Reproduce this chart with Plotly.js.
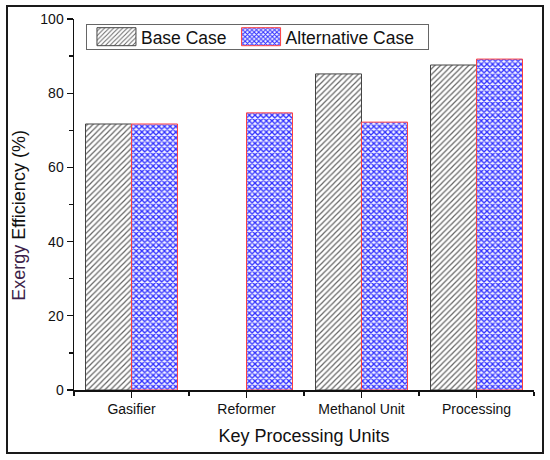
<!DOCTYPE html>
<html>
<head>
<meta charset="utf-8">
<script src="https://cdn.plot.ly/plotly-3.0.1.min.js"></script>
<style>
  html, body { margin: 0; padding: 0; background: #fff; }
  #wrap { position: relative; width: 550px; height: 460px; }
  #chart { position: absolute; left: 0; top: 0; width: 550px; height: 460px; }
  #frame { position: absolute; left: 6px; top: 5px; width: 534px; height: 445px; border: 2px solid #1a1a1a; pointer-events: none; }
</style>
</head>
<body>
<div id="wrap">
  <div id="chart"></div>
  <div id="frame"></div>
</div>
<script>
const categories = ['Gasifier', 'Reformer', 'Methanol Unit', 'Processing'];
const baseCase = [71.7, null, 85.2, 87.6];
const alternativeCase = [71.7, 74.7, 72.2, 89.2];
const yTicks = [0, 20, 40, 60, 80, 100];

const xPos = categories.map((c, i) => i);
const font = 'Liberation Sans, Arial, sans-serif';

const traces = [
  {
    type: 'bar', name: 'Base Case', x: xPos, y: baseCase,
    marker: {
      color: '#ffffff',
      line: { color: '#444444', width: 1 },
      pattern: { shape: '/', fgcolor: '#666666', bgcolor: '#ffffff', size: 4, solidity: 0.3 }
    }
  },
  {
    type: 'bar', name: 'Alternative Case', x: xPos, y: alternativeCase,
    marker: {
      color: '#ffffff',
      line: { color: '#ff4040', width: 1 },
      pattern: { shape: 'x', fgcolor: '#3030ff', bgcolor: '#f4f4ff', size: 4, solidity: 0.55 }
    }
  }
];

const layout = {
  width: 550, height: 460,
  margin: { l: 74, r: 16, t: 19, b: 70 },
  paper_bgcolor: '#ffffff', plot_bgcolor: '#ffffff',
  font: { family: font, color: '#111' },
  barmode: 'group', bargap: 0.2, bargroupgap: 0,
  showlegend: true,
  legend: {
    orientation: 'h', x: 0.026, y: 0.987, xanchor: 'left', yanchor: 'top',
    bordercolor: '#666666', borderwidth: 1, bgcolor: '#ffffff',
    font: { family: font, size: 17.5, color: '#111' },
    itemwidth: 44, tracegroupgap: 0
  },
  xaxis: {
    range: [-0.5, 3.5],
    tickmode: 'array', tickvals: xPos, ticktext: categories,
    ticks: 'outside', ticklen: 6, tickwidth: 1.3, tickcolor: '#111',
    minor: { tickmode: 'array', tickvals: [-0.5, 0.5, 1.5, 2.5, 3.5], ticks: 'outside', ticklen: 4, tickwidth: 1.3, tickcolor: '#111' },
    showline: true, linecolor: '#111', linewidth: 1.5,
    showgrid: false, zeroline: false,
    tickfont: { family: font, size: 14, color: '#111' },
    title: { text: 'Key Processing Units', font: { family: font, size: 18, color: '#111' }, standoff: 13 }
  },
  yaxis: {
    range: [0, 100],
    tickmode: 'array', tickvals: yTicks,
    ticks: 'outside', ticklen: 6, tickwidth: 1.3, tickcolor: '#111',
    minor: { dtick: 10, ticks: 'outside', ticklen: 4, tickwidth: 1.3, tickcolor: '#111' },
    showline: true, linecolor: '#111', linewidth: 1.5,
    showgrid: false, zeroline: false,
    tickfont: { family: font, size: 14, color: '#111' },
    title: { text: '<span style="color:#3d1f4a">Exergy</span> Efficiency (%)', font: { family: font, size: 18, color: '#111' }, standoff: 10 }
  }
};

Plotly.newPlot('chart', traces, layout, { staticPlot: true, displayModeBar: false }).then(function (gd) {
  // enlarge legend swatches to match the reference's wide rectangles
  gd.querySelectorAll('.legend .traces').forEach(function (g) {
    const txt = g.querySelector('text.legendtext');
    const path = g.querySelector('.legendpoints path');
    if (!txt || !path) return;
    const tx = parseFloat(txt.getAttribute('x')) || 40;
    const x1 = tx - 5, x0 = x1 - 39;
    path.removeAttribute('transform');
    path.setAttribute('d', 'M' + x0 + ',-9H' + x1 + 'V9H' + x0 + 'Z');
  });
  // tighten the legend box height, widen slightly
  const bg = gd.querySelector('.legend rect.bg');
  const leg = gd.querySelector('g.legend');
  if (bg && leg) {
    const h = parseFloat(bg.getAttribute('height'));
    const w = parseFloat(bg.getAttribute('width'));
    bg.setAttribute('width', w + 8);
    const target = 25;
    if (h > target) {
      const off = (h - target) / 2;
      const y0 = parseFloat(bg.getAttribute('y')) || 0;
      bg.setAttribute('y', y0 + off);
      bg.setAttribute('height', target);
      const m = /translate\(([-\d.]+)[ ,]+([-\d.]+)\)/.exec(leg.getAttribute('transform') || '');
      if (m) leg.setAttribute('transform', 'translate(' + m[1] + ',' + (parseFloat(m[2]) - off) + ')');
    }
  }
  // the reference's y title sits a bit below the axis centre
  const yt = gd.querySelector('.ytitle');
  if (yt) {
    const t = yt.getAttribute('transform') || '';
    yt.setAttribute('transform', 'translate(0,11) ' + t);
  }
});
</script>
</body>
</html>
